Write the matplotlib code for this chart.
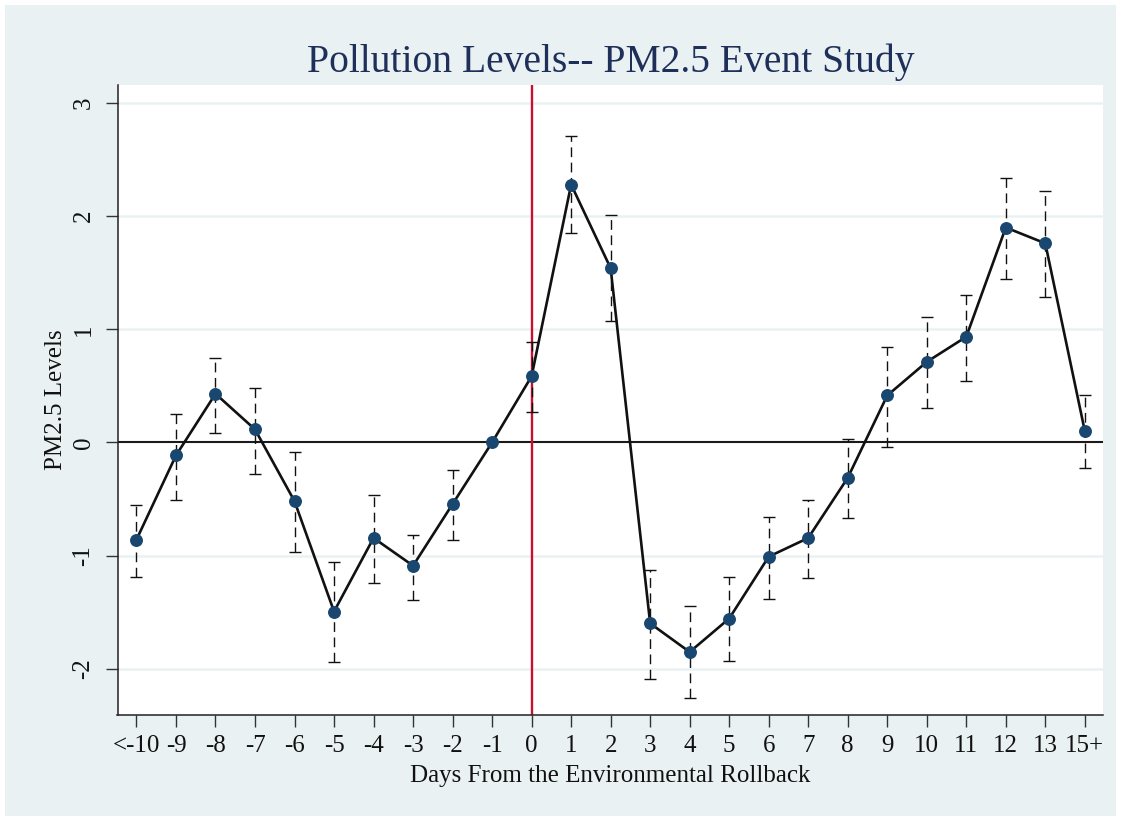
import numpy as np
import matplotlib
matplotlib.use("Agg")
import matplotlib.pyplot as plt
from matplotlib.patches import Rectangle

# Event-study estimates
day_labels = ["<-10", "-9", "-8", "-7", "-6", "-5", "-4", "-3", "-2", "-1", "0",
              "1", "2", "3", "4", "5", "6", "7", "8", "9", "10", "11", "12", "13", "15+"]
coef = [-0.86, -0.115, 0.43, 0.115, -0.52, -1.495, -0.845, -1.09, -0.545, 0.0, 0.585,
        2.28, 1.54, -1.60, -1.853, -1.557, -1.01, -0.845, -0.313, 0.415, 0.712,
        0.934, 1.90, 1.76, 0.10]
ci_upper = [-0.55, 0.25, 0.75, 0.48, -0.086, -1.06, -0.465, -0.815, -0.24, np.nan, 0.89,
            2.71, 2.01, -1.126, -1.45, -1.19, -0.66, -0.505, 0.027, 0.845, 1.105,
            1.30, 2.34, 2.22, 0.417]
ci_lower = [-1.19, -0.51, 0.08, -0.28, -0.97, -1.94, -1.245, -1.395, -0.86, np.nan, 0.27,
            1.85, 1.07, -2.095, -2.26, -1.93, -1.386, -1.20, -0.67, -0.04, 0.307,
            0.54, 1.445, 1.29, -0.228]
y_ticks = [-2, -1, 0, 1, 2, 3]
event_day = "0"

plt.rcParams["font.family"] = ["Liberation Serif", "DejaVu Serif"]

bg = "#eaf1f3"
navy = "#1a476f"

fig = plt.figure(figsize=(11.21, 8.21), dpi=100, facecolor="white")
fig.patches.append(Rectangle((5 / 1121, 5 / 821), 1111 / 1121, 811 / 821,
                             transform=fig.transFigure, facecolor=bg,
                             edgecolor="none", zorder=0))
ax = fig.add_axes([117.5 / 1121, 1 - 715 / 821, (1103 - 117.5) / 1121, (715 - 85) / 821])
ax.set_zorder(2)
ax.set_facecolor("white")

x = np.arange(len(day_labels))
coef = np.array(coef)
up = np.array(ci_upper)
lo = np.array(ci_lower)
ok = ~np.isnan(up)

# grid, reference lines
for yt in y_ticks:
    if yt != 0:
        ax.axhline(yt, color=bg, lw=1.8, zorder=1)
ax.axhline(0, color="#1a1a1a", lw=1.5, zorder=2)
ax.axvline(day_labels.index(event_day), color="#c8102e", lw=1.7, zorder=2)

# confidence intervals
eb = ax.errorbar(x[ok], coef[ok], yerr=[coef[ok] - lo[ok], up[ok] - coef[ok]],
                 fmt="none", ecolor="#111111", elinewidth=1.0, capsize=4.2,
                 capthick=1.0, zorder=3)
eb[2][0].set_linestyle((0, (7, 4)))

ax.plot(x, coef, color="#111111", lw=1.9, zorder=4)
ax.plot(x, coef, "o", color=navy, ms=8.3, zorder=5)

ax.set_xlim(-0.48, 24.46)
ax.set_ylim(-2.41, 3.16)
ax.set_xticks(x)
ax.set_xticklabels(day_labels)
ax.set_yticks(y_ticks)
ax.set_yticklabels([str(v) for v in y_ticks], rotation=90, va="center")

for s in ["top", "right"]:
    ax.spines[s].set_visible(False)
for s in ["left", "bottom"]:
    ax.spines[s].set_color("#222222")
    ax.spines[s].set_linewidth(1.1)
ax.tick_params(axis="both", length=8.5, width=1.0, color="#333333",
               labelsize=18, labelcolor="#111111")
ax.tick_params(axis="x", pad=6)
ax.tick_params(axis="y", pad=8)

ax.set_xlabel("Days From the Environmental Rollback", fontsize=18, color="#111111", labelpad=6)
ax.set_ylabel("PM2.5 Levels", fontsize=18, color="#111111", labelpad=4)
fig.text(0.545, 1 - 62 / 821, "Pollution Levels-- PM2.5 Event Study", ha="center",
         va="center", fontsize=28.5, color="#1e2f5a")

fig.savefig("out.png", dpi=100, facecolor="white")
